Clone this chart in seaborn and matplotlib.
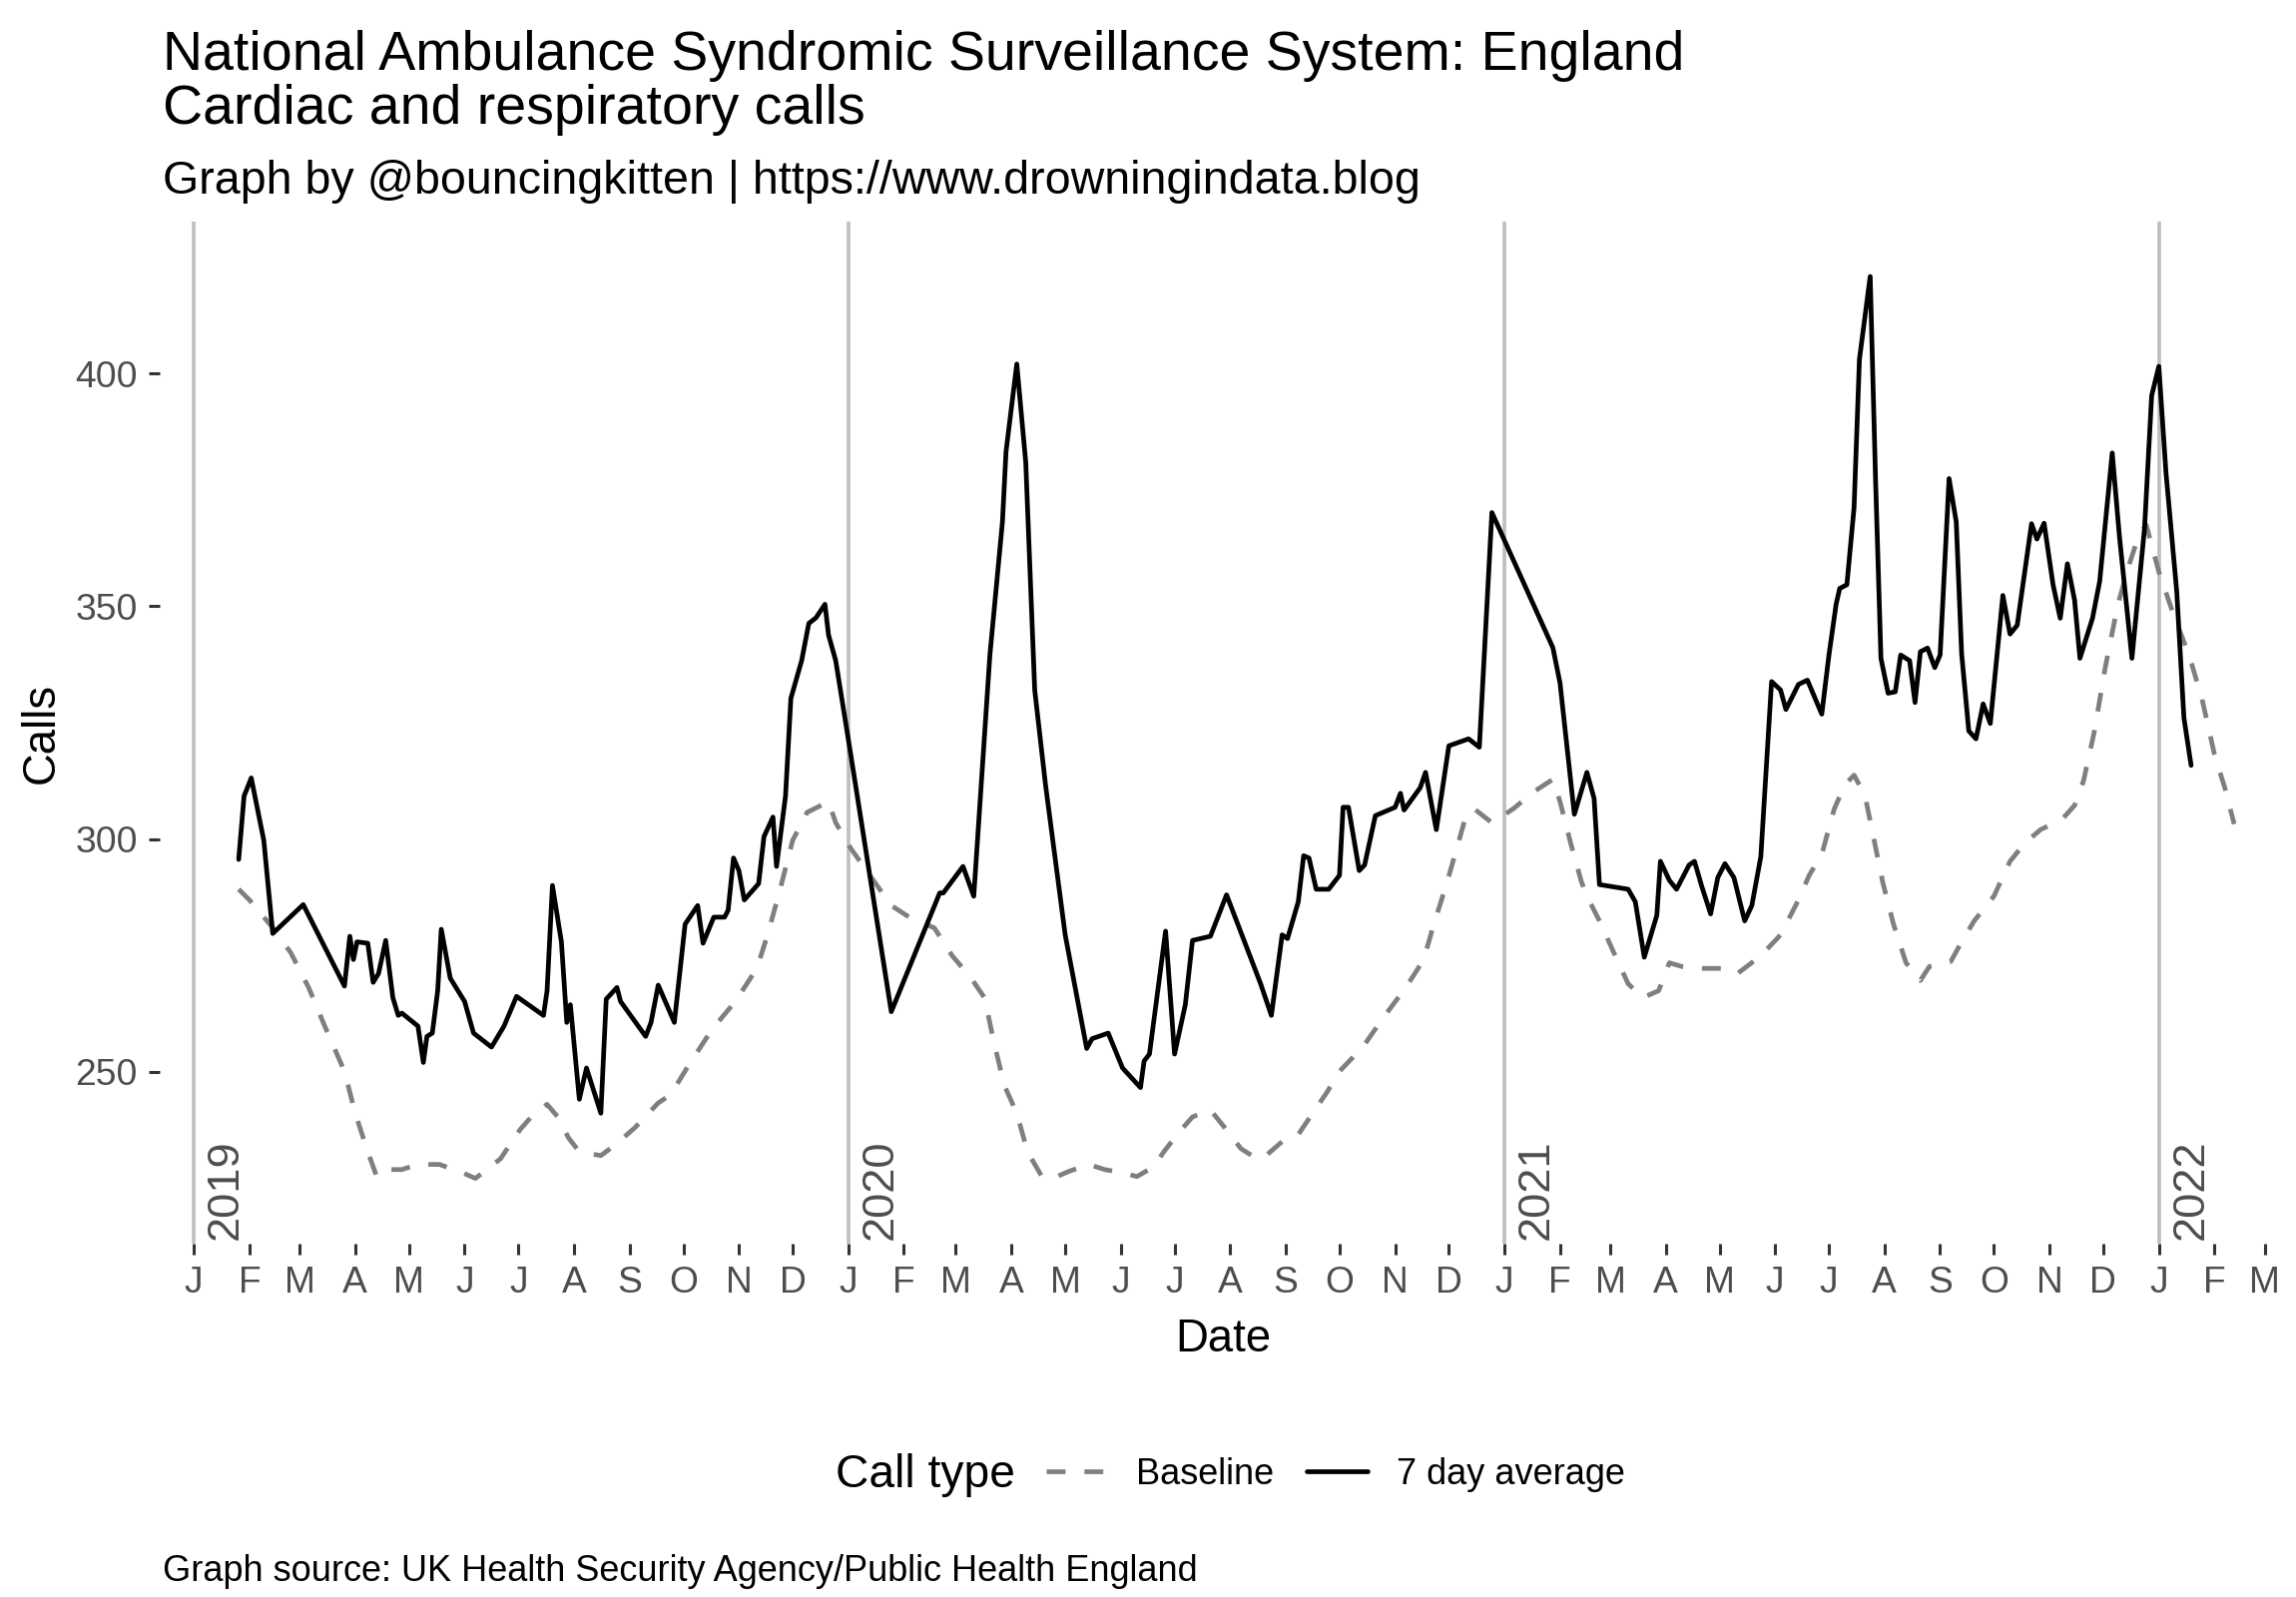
import pandas as pd
import seaborn as sns
import matplotlib.pyplot as plt
import matplotlib.dates as mdates
from matplotlib.ticker import FuncFormatter

# 7 day average of calls
avg_dates = [
    '2019-01-26', '2019-01-29', '2019-02-02', '2019-02-09', '2019-02-14', '2019-03-03',
    '2019-03-26', '2019-03-29', '2019-03-31', '2019-04-02', '2019-04-08', '2019-04-11',
    '2019-04-14', '2019-04-18', '2019-04-22', '2019-04-25', '2019-04-27', '2019-05-06',
    '2019-05-09', '2019-05-11', '2019-05-14', '2019-05-17', '2019-05-19', '2019-05-24',
    '2019-06-01', '2019-06-06', '2019-06-16', '2019-06-23', '2019-06-30', '2019-07-15',
    '2019-07-17', '2019-07-20', '2019-07-25', '2019-07-28', '2019-07-30', '2019-08-04',
    '2019-08-08', '2019-08-16', '2019-08-19', '2019-08-25', '2019-08-27', '2019-09-10',
    '2019-09-13', '2019-09-17', '2019-09-26', '2019-10-02', '2019-10-09', '2019-10-12',
    '2019-10-18', '2019-10-24', '2019-10-26', '2019-10-29', '2019-11-01', '2019-11-04',
    '2019-11-12', '2019-11-15', '2019-11-20', '2019-11-22', '2019-11-27', '2019-11-30',
    '2019-12-06', '2019-12-10', '2019-12-14', '2019-12-19', '2019-12-21', '2019-12-25',
    '2020-01-01', '2020-01-25', '2020-02-21', '2020-02-23', '2020-03-05', '2020-03-11',
    '2020-03-20', '2020-03-27', '2020-03-29', '2020-04-04', '2020-04-09', '2020-04-14',
    '2020-04-20', '2020-05-01', '2020-05-13', '2020-05-16', '2020-05-25', '2020-06-02',
    '2020-06-12', '2020-06-14', '2020-06-17', '2020-06-26', '2020-07-01', '2020-07-07',
    '2020-07-11', '2020-07-21', '2020-07-30', '2020-08-18', '2020-08-24', '2020-08-30',
    '2020-09-02', '2020-09-08', '2020-09-11', '2020-09-14', '2020-09-18', '2020-09-25',
    '2020-10-01', '2020-10-03', '2020-10-06', '2020-10-12', '2020-10-15', '2020-10-21',
    '2020-11-01', '2020-11-04', '2020-11-06', '2020-11-15', '2020-11-18', '2020-11-24',
    '2020-12-01', '2020-12-12', '2020-12-18', '2020-12-25', '2021-01-28', '2021-02-01',
    '2021-02-09', '2021-02-16', '2021-02-20', '2021-02-23', '2021-03-11', '2021-03-15',
    '2021-03-20', '2021-03-27', '2021-03-29', '2021-04-03', '2021-04-07', '2021-04-14',
    '2021-04-17', '2021-04-21', '2021-04-26', '2021-04-30', '2021-05-04', '2021-05-09',
    '2021-05-15', '2021-05-19', '2021-05-24', '2021-05-30', '2021-06-04', '2021-06-07',
    '2021-06-14', '2021-06-19', '2021-06-27', '2021-07-01', '2021-07-05', '2021-07-07',
    '2021-07-11', '2021-07-15', '2021-07-18', '2021-07-24', '2021-07-27', '2021-07-30',
    '2021-08-03', '2021-08-07', '2021-08-10', '2021-08-15', '2021-08-18', '2021-08-21',
    '2021-08-25', '2021-08-29', '2021-09-01', '2021-09-06', '2021-09-10', '2021-09-13',
    '2021-09-17', '2021-09-21', '2021-09-25', '2021-09-29', '2021-10-06', '2021-10-10',
    '2021-10-14', '2021-10-22', '2021-10-25', '2021-10-29', '2021-11-03', '2021-11-07',
    '2021-11-11', '2021-11-15', '2021-11-18', '2021-11-25', '2021-11-29', '2021-12-06',
    '2021-12-10', '2021-12-17', '2021-12-24', '2021-12-28', '2022-01-01', '2022-01-05',
    '2022-01-11', '2022-01-15', '2022-01-19',
]
avg_values = [
    295.6, 309.2, 313.1, 299.7, 279.7, 285.9,
    268.4, 279.1, 274.1, 277.9, 277.6, 269.2,
    271.1, 278.2, 265.9, 262.1, 262.6, 259.8,
    252.0, 257.6, 258.3, 267.4, 280.6, 270.1,
    265.1, 258.3, 255.3, 259.8, 266.2, 262.1,
    267.4, 290.0, 277.9, 260.6, 264.4, 244.1,
    250.8, 241.1, 265.6, 268.1, 265.1, 257.6,
    260.6, 268.6, 260.6, 281.7, 285.7, 277.6,
    283.2, 283.2, 284.7, 295.9, 293.2, 286.9,
    290.4, 300.5, 304.7, 294.1, 309.2, 330.2,
    338.3, 346.3, 347.5, 350.4, 343.8, 338.3,
    321.5, 262.9, 288.4, 288.4, 294.1, 287.7,
    339.5, 368.1, 383.2, 402.0, 380.9, 332.0,
    311.7, 279.4, 255.0, 257.1, 258.3, 250.8,
    246.6, 252.3, 253.8, 280.2, 253.8, 264.4,
    278.2, 279.1, 288.0, 268.9, 262.1, 279.4,
    278.6, 286.5, 296.4, 295.9, 289.2, 289.2,
    292.2, 306.8, 306.8, 293.2, 294.4, 305.0,
    306.8, 309.8, 306.2, 311.0, 314.3, 302.0,
    320.0, 321.5, 319.7, 370.1, 341.1, 333.5,
    305.3, 314.3, 308.7, 290.2, 289.2, 286.5,
    274.6, 283.6, 295.2, 291.1, 289.2, 294.4,
    295.2, 289.9, 283.9, 291.7, 294.7, 291.7,
    282.4, 285.7, 296.2, 333.8, 332.0, 327.8,
    333.2, 334.1, 326.8, 339.5, 350.4, 353.8,
    354.6, 371.1, 403.0, 420.8, 377.1, 338.8,
    331.3, 331.6, 339.5, 338.3, 329.3, 340.2,
    341.0, 336.8, 339.5, 377.4, 368.1, 339.8,
    323.2, 321.5, 329.0, 324.8, 352.3, 344.0,
    345.9, 367.7, 364.4, 367.8, 354.6, 347.4,
    359.1, 351.3, 338.8, 347.4, 355.3, 382.9,
    365.1, 338.8, 366.6, 395.2, 401.5, 378.6,
    353.1, 326.0, 315.8,
]

# baseline
base_dates = [
    '2019-01-26', '2019-02-01', '2019-02-14', '2019-02-24', '2019-03-06', '2019-03-15',
    '2019-03-26', '2019-04-01', '2019-04-08', '2019-04-13', '2019-04-19', '2019-04-27',
    '2019-05-06', '2019-05-18', '2019-05-31', '2019-06-07', '2019-06-21', '2019-07-02',
    '2019-07-10', '2019-07-17', '2019-07-23', '2019-07-29', '2019-08-04', '2019-08-16',
    '2019-08-24', '2019-09-04', '2019-09-17', '2019-09-24', '2019-10-03', '2019-10-17',
    '2019-10-30', '2019-11-11', '2019-11-17', '2019-11-24', '2019-12-01', '2019-12-09',
    '2019-12-21', '2019-12-25', '2020-01-02', '2020-01-13', '2020-01-25', '2020-02-04',
    '2020-02-18', '2020-02-28', '2020-03-09', '2020-03-17', '2020-03-22', '2020-03-28',
    '2020-04-04', '2020-04-10', '2020-04-18', '2020-04-24', '2020-05-03', '2020-05-14',
    '2020-05-23', '2020-06-02', '2020-06-10', '2020-06-19', '2020-06-25', '2020-07-03',
    '2020-07-11', '2020-07-21', '2020-07-29', '2020-08-07', '2020-08-16', '2020-08-21',
    '2020-08-30', '2020-09-08', '2020-09-16', '2020-09-24', '2020-10-01', '2020-10-14',
    '2020-10-25', '2020-11-07', '2020-11-17', '2020-11-22', '2020-11-30', '2020-12-10',
    '2020-12-15', '2020-12-25', '2020-12-30', '2021-01-06', '2021-01-18', '2021-01-28',
    '2021-02-01', '2021-02-07', '2021-02-13', '2021-02-18', '2021-02-23', '2021-03-03',
    '2021-03-11', '2021-03-19', '2021-03-28', '2021-04-03', '2021-04-10', '2021-04-22',
    '2021-05-04', '2021-05-11', '2021-05-24', '2021-06-04', '2021-06-14', '2021-06-20',
    '2021-06-27', '2021-07-04', '2021-07-10', '2021-07-15', '2021-07-21', '2021-07-25',
    '2021-07-31', '2021-08-06', '2021-08-13', '2021-08-21', '2021-08-26', '2021-09-07',
    '2021-09-13', '2021-09-20', '2021-10-01', '2021-10-10', '2021-10-18', '2021-10-27',
    '2021-11-08', '2021-11-15', '2021-11-20', '2021-11-26', '2021-12-02', '2021-12-09',
    '2021-12-15', '2021-12-21', '2021-12-25', '2022-01-01', '2022-01-09', '2022-01-18',
    '2022-01-25', '2022-02-01', '2022-02-07', '2022-02-12',
]
base_values = [
    289.2, 286.9, 280.9, 275.6, 268.1, 259.8,
    250.1, 241.1, 232.8, 227.5, 229.0, 229.0,
    230.1, 230.1, 228.3, 227.1, 231.3, 237.6,
    241.1, 243.0, 240.3, 235.8, 232.8, 232.0,
    234.3, 238.0, 243.3, 245.1, 250.8, 259.1,
    265.1, 272.2, 279.4, 289.2, 299.7, 305.7,
    308.0, 303.5, 298.2, 292.2, 285.7, 283.2,
    280.9, 274.9, 270.4, 265.9, 256.8, 247.1,
    241.1, 232.8, 227.5, 227.1, 228.6, 230.1,
    229.0, 228.3, 227.5, 229.5, 232.8, 236.8,
    240.3, 241.8, 238.0, 233.5, 231.3, 232.0,
    235.0, 236.5, 241.1, 245.6, 250.1, 255.3,
    261.4, 268.1, 274.1, 280.9, 290.7, 304.2,
    306.5, 303.5, 304.7, 306.5, 310.3, 312.8,
    308.0, 299.0, 290.7, 286.2, 282.4, 275.6,
    268.9, 265.9, 267.4, 273.4, 272.6, 272.2,
    272.2, 271.1, 274.9, 279.4, 286.9, 292.2,
    296.7, 306.5, 311.7, 313.7, 309.5, 302.0,
    290.7, 281.7, 273.4, 269.6, 272.6, 273.7,
    277.9, 282.4, 287.7, 295.2, 299.0, 302.0,
    304.2, 307.2, 312.5, 323.0, 336.6, 350.1,
    358.4, 365.4, 367.4, 357.4, 348.4, 339.3,
    330.2, 318.2, 310.7, 303.2,
]

years = ['2019', '2020', '2021', '2022']
call_types = ['Baseline', '7 day average']

df = pd.concat([
    pd.DataFrame({'date': pd.to_datetime(base_dates), 'calls': base_values, 'type': 'Baseline'}),
    pd.DataFrame({'date': pd.to_datetime(avg_dates), 'calls': avg_values, 'type': '7 day average'}),
])

sns.set_theme(style='white')
plt.rcParams['font.family'] = ['Liberation Sans', 'DejaVu Sans']
plt.rcParams['text.color'] = 'black'
plt.rcParams['axes.labelcolor'] = 'black'

fig = plt.figure(figsize=(11.5, 8), dpi=200)
ax = fig.add_axes([0.0696, 0.2213, 0.9261, 0.6397])

# year markers
for y in years:
    d = pd.Timestamp(y + '-01-01')
    ax.axvline(d, color='#BEBEBE', lw=1.3, zorder=1)
    ax.annotate(y, xy=(d, 213.1), xytext=(4.3, 1.5), textcoords='offset points',
                rotation=90, ha='left', va='bottom', fontsize=16.3, color='#4D4D4D')

sns.lineplot(data=df, x='date', y='calls', hue='type', style='type',
             hue_order=call_types, style_order=call_types,
             palette={'Baseline': '#7F7F7F', '7 day average': 'black'},
             dashes={'Baseline': (4, 4), '7 day average': ''},
             linewidth=1.7, estimator=None, ax=ax, zorder=3)

ax.set_xlim(pd.Timestamp('2018-12-13'), pd.Timestamp('2022-03-13'))
ax.set_ylim(213.1, 432.5)
ax.set_yticks([250, 300, 350, 400])

ax.xaxis.set_major_locator(mdates.MonthLocator())
ax.xaxis.set_major_formatter(FuncFormatter(lambda x, pos: mdates.num2date(x).strftime('%b')[0]))

for s in ax.spines.values():
    s.set_visible(False)
ax.tick_params(axis='both', which='major', length=4, width=1.1, color='#333333',
               labelsize=13.4, labelcolor='#4D4D4D', pad=4, bottom=True, left=True)
ax.grid(False)

ax.set_xlabel('Date', fontsize=16.4, color='black', labelpad=6)
ax.set_ylabel('Calls', fontsize=16.4, color='black', labelpad=4)

# legend at the bottom
handles, labels = ax.get_legend_handles_labels()
ax.get_legend().remove()
leg = fig.legend(handles, labels, loc='center left', bbox_to_anchor=(0.4557, 0.0765),
                 ncol=2, frameon=False, fontsize=13, handlelength=1.7, handletextpad=0.8,
                 columnspacing=0.9, borderpad=0, borderaxespad=0)
for h in leg.get_lines():
    h.set_linewidth(1.7)
fig.text(0.442, 0.0765, 'Call type', ha='right', va='center', fontsize=16.6)

fig.text(0.0709, 1 - 70 / 1600, 'National Ambulance Syndromic Surveillance System: England',
         ha='left', va='baseline', fontsize=20)
fig.text(0.0709, 1 - 124 / 1600, 'Cardiac and respiratory calls',
         ha='left', va='baseline', fontsize=20)
fig.text(0.0709, 1 - 194 / 1600, 'Graph by @bouncingkitten | https://www.drowningindata.blog',
         ha='left', va='baseline', fontsize=16.8)
fig.text(0.0709, 1 - 1574 / 1600, 'Graph source: UK Health Security Agency/Public Health England',
         ha='left', va='center', fontsize=13)

fig.savefig('out.png', dpi=200, facecolor='white')
